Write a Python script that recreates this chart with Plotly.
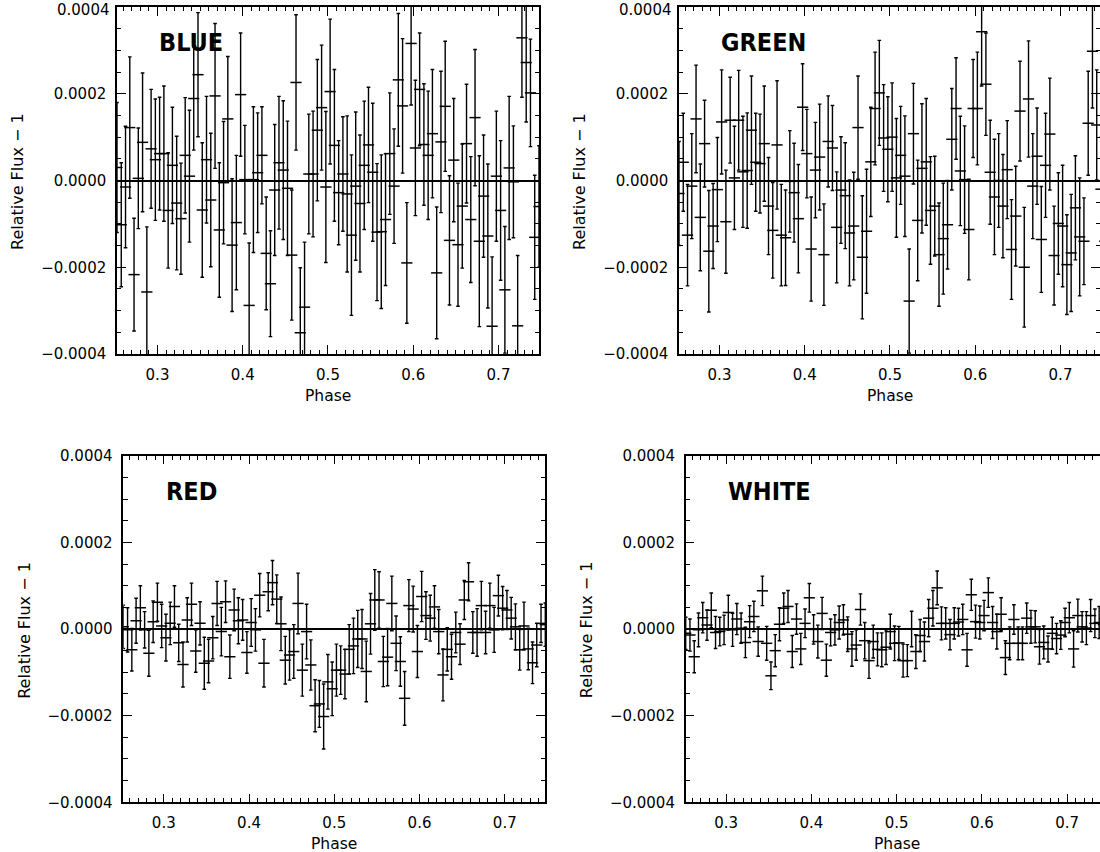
import plotly.graph_objects as go

# ---------------- data ----------------
FLUX_UNIT = 1e-4  # all flux values below are in units of 1e-4

PHASE = [0.2525, 0.2575, 0.2625, 0.2675, 0.2725, 0.2775, 0.2825, 0.2875, 0.2925, 0.2975,
         0.3025, 0.3075, 0.3125, 0.3175, 0.3225, 0.3275, 0.3325, 0.3375, 0.3425, 0.3475,
         0.3525, 0.3575, 0.3625, 0.3675, 0.3725, 0.3775, 0.3825, 0.3875, 0.3925, 0.3975,
         0.4025, 0.4075, 0.4125, 0.4175, 0.4225, 0.4275, 0.4325, 0.4375, 0.4425, 0.4475,
         0.4525, 0.4575, 0.4625, 0.4675, 0.4725, 0.4775, 0.4825, 0.4875, 0.4925, 0.4975,
         0.5025, 0.5075, 0.5125, 0.5175, 0.5225, 0.5275, 0.5325, 0.5375, 0.5425, 0.5475,
         0.5525, 0.5575, 0.5625, 0.5675, 0.5725, 0.5775, 0.5825, 0.5875, 0.5925, 0.5975,
         0.6025, 0.6075, 0.6125, 0.6175, 0.6225, 0.6275, 0.6325, 0.6375, 0.6425, 0.6475,
         0.6525, 0.6575, 0.6625, 0.6675, 0.6725, 0.6775, 0.6825, 0.6875, 0.6925, 0.6975,
         0.7025, 0.7075, 0.7125, 0.7175, 0.7225, 0.7275, 0.7325, 0.7375, 0.7425, 0.7475]

BLUE_FLUX = [0.30, -1.02, -0.15, 1.22, -2.17, 0.05, 0.88, -2.57, 0.73, 0.48,
             0.62, 0.62, -0.69, 0.35, -0.52, -0.88, 0.58, 0.10, 1.89, 2.44,
             -0.68, 0.48, -0.45, 1.95, -1.14, -0.05, 1.42, -1.49, -0.97, 1.98,
             0.02, -2.88, 0.02, 0.18, 0.58, -1.68, -2.38, -0.22, 0.41, 0.24,
             -0.18, -1.72, 2.26, -3.51, -2.92, 0.15, 0.15, 1.16, 1.68, -0.15,
             2.05, 0.81, -0.28, 0.15, -0.31, -1.26, -0.13, -0.53, 0.35, 0.82,
             0.19, -1.19, -1.18, -0.90, 0.62, -0.13, 2.32, 1.72, -1.90, 3.16,
             0.75, 2.10, 0.83, 0.58, 1.08, -2.13, 0.89, 1.71, -1.38, 0.47,
             -1.48, -0.59, 0.85, -0.90, 1.45, -1.40, -0.36, -1.28, -3.36, 0.10,
             -0.69, -2.52, 0.29, -0.03, -3.35, 3.29, 2.72, 2.02, -1.31, -0.60]
BLUE_ERR = [1.50, 1.43, 1.40, 1.63, 1.30, 1.16, 1.60, 1.50, 1.37, 1.40,
            1.30, 1.56, 1.33, 1.34, 1.54, 1.28, 1.33, 1.52, 1.19, 1.43,
            1.55, 1.46, 1.54, 1.67, 1.55, 1.41, 1.44, 1.53, 1.55, 1.42,
            1.25, 1.44, 1.68, 1.38, 1.12, 1.30, 1.22, 1.51, 1.53, 1.60,
            1.55, 1.50, 1.56, 1.50, 1.50, 1.38, 1.45, 1.63, 1.44, 1.74,
            1.67, 1.75, 1.20, 1.32, 1.80, 1.85, 1.71, 1.58, 1.48, 1.33,
            1.59, 1.58, 1.77, 1.52, 1.40, 1.32, 1.53, 1.55, 1.39, 1.42,
            1.56, 1.30, 1.40, 1.48, 1.48, 1.52, 1.63, 1.50, 1.49, 1.42,
            1.42, 1.43, 1.37, 1.45, 1.57, 1.97, 1.41, 1.66, 1.60, 1.50,
            1.61, 1.46, 1.65, 1.29, 1.62, 1.37, 1.37, 1.24, 1.43, 1.40]

GREEN_FLUX = [-0.30, 0.42, -1.26, -0.13, 1.42, -0.85, 0.85, -1.63, -1.05, -0.21,
              1.35, -0.95, 1.39, 0.06, 1.39, 0.20, 0.23, 1.16, 0.42, 0.39,
              0.85, -0.59, -1.15, 0.82, -1.26, -1.32, -0.02, -0.28, -0.88, 1.69,
              0.62, -1.58, 0.24, 0.54, -1.71, 0.90, 0.75, -1.08, -0.22, -0.35,
              -1.21, -1.05, 1.22, -1.77, -1.17, 0.43, 1.66, 2.02, 0.98, 0.72,
              1.00, 0.06, 0.58, 0.10, -2.78, 1.08, -0.92, 0.28, 0.43, -0.69,
              -0.59, -1.71, -1.34, -1.02, 0.95, 1.66, 0.22, 0.02, -1.13, 1.66,
              1.66, 3.43, 2.22, 0.19, -0.38, 0.00, -0.59, 0.25, -1.59, -0.82,
              1.60, -2.00, 1.88, -0.13, 0.56, -1.36, 0.35, 1.07, -1.73, -0.99,
              -1.05, -1.94, -1.67, -0.63, -1.30, -1.40, 1.32, 2.98, 1.28, -0.20]
GREEN_ERR = [1.20, 1.13, 1.17, 1.21, 1.24, 1.23, 1.00, 1.40, 0.98, 1.20,
             1.20, 1.19, 0.99, 1.19, 1.15, 1.28, 1.33, 1.25, 1.13, 1.14,
             1.33, 1.12, 1.10, 1.48, 1.17, 1.10, 1.17, 1.14, 1.25, 1.00,
             1.02, 1.20, 1.10, 1.22, 1.17, 1.05, 0.98, 1.28, 1.23, 1.22,
             1.22, 1.24, 1.19, 1.42, 1.43, 1.26, 1.30, 1.21, 1.23, 1.21,
             1.25, 1.37, 1.13, 1.39, 1.20, 1.16, 1.39, 1.49, 1.46, 1.24,
             1.15, 1.19, 1.28, 1.02, 1.17, 1.17, 1.26, 1.24, 1.16, 1.13,
             1.30, 1.25, 1.18, 1.20, 1.33, 1.08, 1.19, 1.13, 1.15, 1.15,
             1.15, 1.38, 1.34, 1.21, 1.11, 1.22, 1.20, 1.29, 1.14, 1.17,
             1.40, 1.15, 1.35, 1.20, 1.36, 1.00, 1.20, 1.31, 1.27, 1.20]

RED_FLUX = [0.05, -0.02, -0.48, 0.19, 0.49, -0.02, -0.56, 0.17, 0.62, 0.07,
            -0.20, 0.13, 0.52, -0.32, -0.82, 0.21, 0.57, -0.51, 0.13, -0.79,
            -0.74, -0.20, 0.59, -0.06, 0.63, -0.64, 0.44, 0.19, 0.21, -0.54,
            0.15, -0.02, 0.78, -0.79, 0.86, 1.07, 0.69, 0.12, -0.72, -0.60,
            -0.52, 0.59, -0.95, -0.06, -0.83, -1.77, -1.73, -2.02, -1.22, -1.38,
            -0.95, -0.95, -1.04, -0.47, -0.39, -0.23, -0.23, -0.98, 0.12, 0.67,
            0.67, -0.75, -0.65, 0.59, -0.33, -0.75, -1.60, 0.54, 0.46, -0.52,
            0.75, 0.31, 0.25, 0.51, -0.06, -1.06, -0.47, -0.64, -0.08, -0.35,
            0.67, 1.09, -0.08, -0.08, 0.54, -0.08, 0.54, -0.02, 0.77, 0.48,
            0.44, 0.25, 0.05, -0.48, 0.07, -0.46, -0.78, -0.37, 0.13, 0.10]
RED_ERR = [0.50, 0.51, 0.49, 0.52, 0.51, 0.42, 0.53, 0.48, 0.44, 0.50,
           0.54, 0.49, 0.48, 0.43, 0.52, 0.51, 0.49, 0.49, 0.50, 0.60,
           0.50, 0.49, 0.51, 0.56, 0.48, 0.50, 0.48, 0.53, 0.47, 0.48,
           0.55, 0.49, 0.50, 0.55, 0.44, 0.51, 0.56, 0.62, 0.55, 0.58,
           0.62, 0.70, 0.60, 0.63, 0.58, 0.60, 0.54, 0.75, 0.63, 0.62,
           0.60, 0.56, 0.57, 0.57, 0.64, 0.66, 0.68, 0.70, 0.70, 0.70,
           0.65, 0.58, 0.66, 0.63, 0.63, 0.57, 0.62, 0.60, 0.53, 0.60,
           0.58, 0.55, 0.53, 0.49, 0.51, 0.60, 0.50, 0.52, 0.47, 0.47,
           0.45, 0.44, 0.48, 0.55, 0.56, 0.49, 0.52, 0.52, 0.47, 0.50,
           0.45, 0.48, 0.53, 0.47, 0.55, 0.48, 0.48, 0.50, 0.44, 0.50]

WHITE_FLUX = [-0.10, -0.14, -0.64, -0.02, 0.26, 0.09, 0.43, -0.08, -0.06, -0.02,
              0.38, -0.02, 0.23, 0.02, -0.31, 0.17, 0.29, -0.29, 0.88, -0.33,
              -1.08, -0.50, 0.11, 0.48, 0.52, -0.52, 0.23, -0.46, 0.13, 0.72,
              -0.01, -0.29, 0.36, -0.72, -0.08, -0.02, 0.15, 0.21, -0.12, -0.46,
              -0.37, 0.45, -0.27, -0.73, -0.29, -0.47, -0.48, -0.42, -0.06, -0.33,
              -0.32, -0.73, -0.73, 0.00, -0.52, -0.15, -0.29, 0.25, 0.48, 0.95,
              0.13, 0.13, -0.13, 0.13, 0.16, 0.22, -0.48, 0.79, 0.17, 0.15,
              0.31, 0.84, 0.15, -0.06, 0.34, -0.66, -0.33, 0.22, -0.33, -0.33,
              0.25, 0.05, 0.05, -0.41, -0.31, -0.46, -0.10, -0.22, -0.14, 0.15,
              0.26, -0.46, 0.31, 0.05, 0.02, 0.31, 0.13, 0.15, 0.10, 0.00]
WHITE_ERR = [0.37, 0.37, 0.37, 0.39, 0.35, 0.35, 0.40, 0.37, 0.33, 0.34,
             0.40, 0.38, 0.36, 0.35, 0.35, 0.37, 0.35, 0.34, 0.34, 0.39,
             0.32, 0.37, 0.38, 0.35, 0.37, 0.37, 0.35, 0.36, 0.33, 0.33,
             0.34, 0.38, 0.37, 0.37, 0.31, 0.35, 0.38, 0.35, 0.40, 0.40,
             0.35, 0.36, 0.42, 0.41, 0.38, 0.38, 0.39, 0.40, 0.40, 0.40,
             0.38, 0.38, 0.37, 0.41, 0.39, 0.37, 0.45, 0.43, 0.41, 0.39,
             0.38, 0.36, 0.35, 0.36, 0.32, 0.35, 0.38, 0.36, 0.38, 0.38,
             0.35, 0.34, 0.37, 0.40, 0.38, 0.39, 0.38, 0.34, 0.38, 0.38,
             0.35, 0.38, 0.37, 0.40, 0.38, 0.30, 0.37, 0.35, 0.33, 0.33,
             0.35, 0.42, 0.38, 0.35, 0.38, 0.37, 0.33, 0.37, 0.37, 0.37]

PANEL_NAMES = ["BLUE", "GREEN", "RED", "WHITE"]
PANEL_FLUX = [BLUE_FLUX, GREEN_FLUX, RED_FLUX, WHITE_FLUX]
PANEL_ERR = [BLUE_ERR, GREEN_ERR, RED_ERR, WHITE_ERR]

X_TICK_VALS = [0.3, 0.4, 0.5, 0.6, 0.7]
Y_TICK_VALS = [0.0004, 0.0002, 0.0, -0.0002, -0.0004]
Y_TICK_TEXT = ["0.0004", "0.0002", "0.0000", "\u22120.0002", "\u22120.0004"]
X_TITLE = "Phase"
Y_TITLE = "Relative Flux \u2212 1"

# ---------------- layout geometry (pixels) ----------------
W, H = 1100, 852
PX_PER_PHASE = 852.5
# (left, right, top, bottom) of each plotting area in pixels
BOXES = [(117, 539, 7, 354), (679, 1100, 7, 354),
         (123.3, 545, 455.7, 802.3), (685.7, 1100, 455.7, 802.3)]
X0 = 0.2525

FONT = "DejaVu Sans, Verdana, sans-serif"
BOLD_FONT = "DejaVu Sans Condensed, DejaVu Sans, sans-serif"

fig = go.Figure()
annotations = []
layout_axes = {}

for i, (name, flux, err) in enumerate(zip(PANEL_NAMES, PANEL_FLUX, PANEL_ERR)):
    left, right, top, bottom = BOXES[i]
    sfx = "" if i == 0 else str(i + 1)
    xref = "x" + sfx
    yref = "y" + sfx
    y_vals = [v * FLUX_UNIT for v in flux]
    e_vals = [v * FLUX_UNIT for v in err]
    fig.add_trace(go.Scatter(
        x=PHASE, y=y_vals, mode="markers", xaxis=xref, yaxis=yref,
        showlegend=False, cliponaxis=True,
        marker=dict(symbol="line-ew", size=8, color="black",
                    line=dict(width=1.5, color="black")),
        error_y=dict(type="data", array=e_vals, visible=True,
                     color="black", thickness=1.4, width=1.8),
    ))
    x_end = X0 + (right - left) / PX_PER_PHASE
    right_mirror = i != 3
    top_row = i < 2
    # in the top row the highest label touches the page edge: it is drawn
    # as an annotation pinned to the top of the page instead
    tick_text = list(Y_TICK_TEXT)
    if top_row:
        tick_text[0] = ""
        annotations.append(dict(
            x=(left - 6) / W, y=1.0, xref="paper", yref="paper",
            text=Y_TICK_TEXT[0], showarrow=False, xanchor="right",
            yanchor="top", font=dict(family=FONT, size=15, color="black"),
            borderpad=0,
        ))
    layout_axes["xaxis" + sfx] = dict(
        domain=[left / W, right / W], range=[X0, x_end], anchor=yref,
        automargin=False,
        showline=True, linecolor="black", linewidth=1.5, mirror="ticks",
        ticks="inside", ticklen=9, tickwidth=1.2, tickcolor="black",
        tickvals=X_TICK_VALS, tickformat=".1f",
        minor=dict(dtick=0.01, tick0=0, ticks="inside", ticklen=4.5,
                   tickwidth=1, tickcolor="black", showgrid=False),
        showgrid=False, zeroline=False,
        tickfont=dict(family=FONT, size=15, color="black"),
        ticklabelstandoff=6, ticklabeloverflow="allow",
    )
    layout_axes["yaxis" + sfx] = dict(
        domain=[1 - bottom / H, 1 - top / H], range=[-0.0004, 0.0004],
        anchor=xref, automargin=False,
        showline=True, linecolor="black", linewidth=1.5,
        mirror=("ticks" if right_mirror else False),
        ticks="inside", ticklen=9, tickwidth=1.2, tickcolor="black",
        tickvals=Y_TICK_VALS, ticktext=tick_text,
        minor=dict(dtick=0.00005, tick0=0, ticks="inside", ticklen=4.5,
                   tickwidth=1, tickcolor="black", showgrid=False),
        showgrid=False, zeroline=True, zerolinecolor="black", zerolinewidth=1.6,
        tickfont=dict(family=FONT, size=15, color="black"),
        ticklabelstandoff=6, ticklabeloverflow="allow",
    )
    # panel label
    annotations.append(dict(
        x=0.3, y=0.000318, xref=xref, yref=yref, text="<b>" + name + "</b>",
        showarrow=False, xanchor="left", yanchor="middle",
        font=dict(family=BOLD_FONT, size=25, color="black"),
    ))
    # axis titles
    full_right = right if i in (0, 2) else left + 422
    annotations.append(dict(
        x=((left + full_right) / 2) / W, y=1 - (bottom + 42) / H,
        xref="paper", yref="paper", text=X_TITLE, showarrow=False,
        xanchor="center", yanchor="middle",
        font=dict(family=FONT, size=15.5, color="black"),
    ))
    annotations.append(dict(
        x=(left - 99.5) / W, y=1 - ((top + bottom) / 2 + 1) / H,
        xref="paper", yref="paper", text=Y_TITLE, showarrow=False,
        textangle=-90, xanchor="center", yanchor="middle",
        font=dict(family=FONT, size=16, color="black"),
    ))

fig.update_layout(
    template="none",
    width=W, height=H, margin=dict(l=0, r=0, t=0, b=0, autoexpand=False),
    paper_bgcolor="white", plot_bgcolor="white",
    annotations=annotations, showlegend=False,
    **layout_axes,
)

fig.write_html("out.html")
